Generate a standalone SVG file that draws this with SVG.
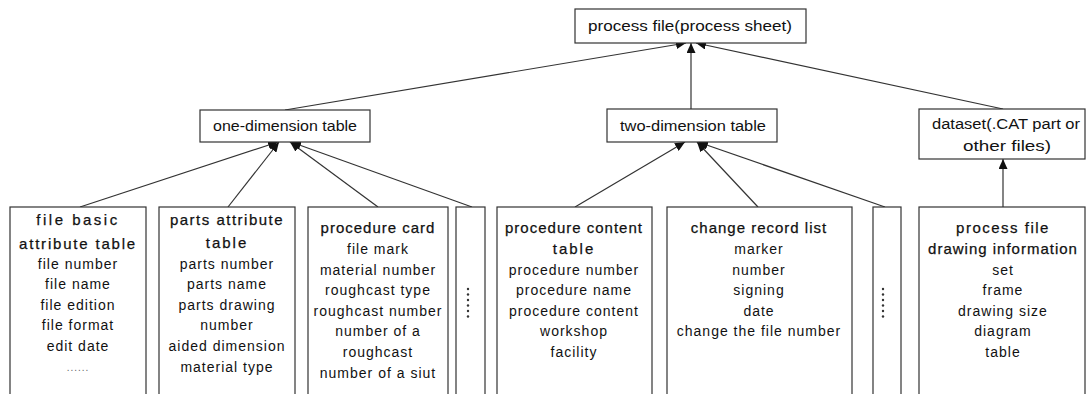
<svg xmlns="http://www.w3.org/2000/svg" width="1087" height="394" viewBox="0 0 1087 394">
<style>
  .box { fill: #ffffff; stroke: #333333; stroke-width: 1.2; }
  .conn { fill: none; stroke: #333333; stroke-width: 1.2; }
  text { font-family: "Liberation Sans", Arial, sans-serif; font-size: 14px; fill: #111111; text-anchor: middle; letter-spacing: 1px; }
  .t { font-size: 15px; stroke: #111111; stroke-width: 0.25; }
  .lab { letter-spacing: 0; }
  .dot { fill: #333333; }
</style>
<defs>
  <marker id="arr" markerUnits="userSpaceOnUse" markerWidth="10" markerHeight="9" refX="10" refY="4.5" orient="auto">
    <path d="M0,0 L10,4.5 L0,9 z" fill="#111111"/>
  </marker>
</defs>
<rect width="1087" height="394" fill="#ffffff"/>

<g id="connectors">
  <line class="conn" x1="285" y1="110" x2="686" y2="43" marker-end="url(#arr)"/>
  <line class="conn" x1="691" y1="109" x2="691" y2="43" marker-end="url(#arr)"/>
  <line class="conn" x1="1003" y1="109" x2="696" y2="43" marker-end="url(#arr)"/>
  <line class="conn" x1="80" y1="207" x2="278" y2="142" marker-end="url(#arr)"/>
  <line class="conn" x1="228" y1="207" x2="279" y2="142" marker-end="url(#arr)"/>
  <line class="conn" x1="378" y1="207" x2="290" y2="142" marker-end="url(#arr)"/>
  <line class="conn" x1="472" y1="207" x2="291" y2="142" marker-end="url(#arr)"/>
  <line class="conn" x1="575" y1="207" x2="685" y2="142" marker-end="url(#arr)"/>
  <line class="conn" x1="758" y1="207" x2="697" y2="142" marker-end="url(#arr)"/>
  <line class="conn" x1="885" y1="207" x2="698" y2="142" marker-end="url(#arr)"/>
  <line class="conn" x1="1003" y1="207" x2="1003" y2="159" marker-end="url(#arr)"/>
</g>

<g id="process-file">
  <rect class="box" x="575" y="9" width="231" height="34"/>
  <text class="lab" x="690" y="31" textLength="204" lengthAdjust="spacingAndGlyphs">process file(process sheet)</text>
</g>

<g id="one-dimension">
  <rect class="box" x="200" y="110" width="170" height="32"/>
  <text class="lab" x="285" y="131" textLength="144" lengthAdjust="spacingAndGlyphs">one-dimension table</text>
</g>

<g id="two-dimension">
  <rect class="box" x="607" y="109" width="170" height="33"/>
  <text class="lab" x="693" y="131" textLength="146" lengthAdjust="spacingAndGlyphs">two-dimension table</text>
</g>

<g id="dataset">
  <rect class="box" x="919" y="109" width="166" height="50"/>
  <text class="lab" x="1006" y="129" textLength="148" lengthAdjust="spacingAndGlyphs">dataset(.CAT part or</text>
  <text class="lab" x="1007" y="151" textLength="88" lengthAdjust="spacingAndGlyphs">other files)</text>
</g>

<g id="file-basic">
  <rect class="box" x="10" y="207" width="136" height="200"/>
  <text class="t" x="78" y="225" style="letter-spacing:2.5px">file basic</text>
  <text class="t" x="78" y="249" style="letter-spacing:1.8px">attribute table</text>
  <text x="78" y="269">file number</text>
  <text x="78" y="289">file name</text>
  <text x="78" y="310">file edition</text>
  <text x="78" y="330">file format</text>
  <text x="78" y="351">edit date</text>
  <text class="lab" x="78" y="371" style="font-size:10px;fill:#666;letter-spacing:1px">......</text>
</g>

<g id="parts-attribute">
  <rect class="box" x="159" y="207" width="136" height="200"/>
  <text class="t" x="227" y="225" style="letter-spacing:1.5px">parts attribute</text>
  <text class="t" x="227" y="248" style="letter-spacing:2px">table</text>
  <text x="227" y="269">parts number</text>
  <text x="227" y="289">parts name</text>
  <text x="227" y="310">parts drawing</text>
  <text x="227" y="330">number</text>
  <text x="227" y="351">aided dimension</text>
  <text x="227" y="372">material type</text>
</g>

<g id="procedure-card">
  <rect class="box" x="308" y="207" width="140" height="200"/>
  <text class="t" x="378" y="233">procedure card</text>
  <text x="378" y="254">file mark</text>
  <text x="378" y="275">material number</text>
  <text x="378" y="295">roughcast type</text>
  <text x="378" y="316">roughcast number</text>
  <text x="378" y="336">number of a</text>
  <text x="378" y="357">roughcast</text>
  <text x="378" y="378">number of a siut</text>
</g>

<g id="dots-1">
  <rect class="box" x="456" y="207" width="29" height="200"/>
  <circle class="dot" cx="468" cy="289" r="1.2"/>
  <circle class="dot" cx="468" cy="294.5" r="1.2"/>
  <circle class="dot" cx="468" cy="300" r="1.2"/>
  <circle class="dot" cx="468" cy="305.5" r="1.2"/>
  <circle class="dot" cx="468" cy="311" r="1.2"/>
  <circle class="dot" cx="468" cy="316.5" r="1.2"/>
</g>

<g id="procedure-content">
  <rect class="box" x="497" y="207" width="155" height="200"/>
  <text class="t" x="574" y="233">procedure content</text>
  <text class="t" x="574" y="254" style="letter-spacing:2px">table</text>
  <text x="574" y="275">procedure number</text>
  <text x="574" y="295">procedure name</text>
  <text x="574" y="316">procedure content</text>
  <text x="574" y="336">workshop</text>
  <text x="574" y="357">facility</text>
</g>

<g id="change-record">
  <rect class="box" x="667" y="207" width="185" height="200"/>
  <text class="t" x="759" y="233">change record list</text>
  <text x="759" y="254">marker</text>
  <text x="759" y="275">number</text>
  <text x="759" y="295">signing</text>
  <text x="759" y="316">date</text>
  <text x="759" y="336">change the file number</text>
</g>

<g id="dots-2">
  <rect class="box" x="873" y="207" width="28" height="200"/>
  <circle class="dot" cx="883" cy="289" r="1.2"/>
  <circle class="dot" cx="883" cy="294.5" r="1.2"/>
  <circle class="dot" cx="883" cy="300" r="1.2"/>
  <circle class="dot" cx="883" cy="305.5" r="1.2"/>
  <circle class="dot" cx="883" cy="311" r="1.2"/>
  <circle class="dot" cx="883" cy="316.5" r="1.2"/>
</g>

<g id="drawing-info">
  <rect class="box" x="919" y="207" width="166" height="200"/>
  <text class="t" x="1003" y="233" style="letter-spacing:1.5px">process file</text>
  <text class="t" x="1003" y="254">drawing information</text>
  <text x="1003" y="275">set</text>
  <text x="1003" y="295">frame</text>
  <text x="1003" y="316">drawing size</text>
  <text x="1003" y="336">diagram</text>
  <text x="1003" y="357">table</text>
</g>
</svg>
